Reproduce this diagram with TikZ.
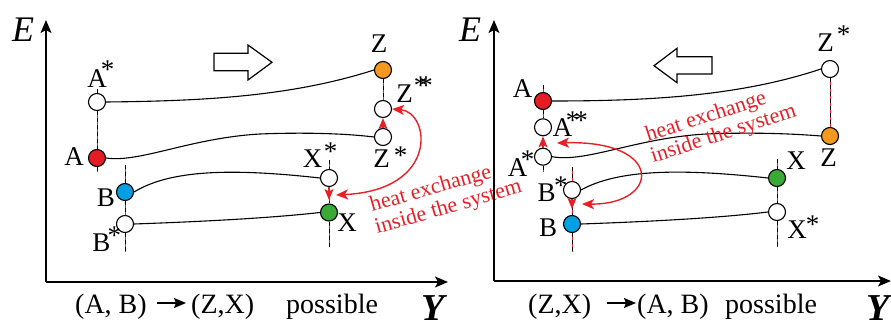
\documentclass[tikz,border=0pt]{standalone}
\usepackage{fontspec}
\setmainfont{Liberation Serif}
\usetikzlibrary{arrows.meta}
\definecolor{myred}{RGB}{232,32,38}
\definecolor{cred}{RGB}{228,28,36}
\definecolor{cblue}{RGB}{0,160,227}
\definecolor{cgreen}{RGB}{57,170,53}
\definecolor{corange}{RGB}{243,152,32}
\newcommand\upst[2]{\rlap{\kern#1\raisebox{#2}{*}}}
\newcommand\upstt[3]{\rlap{\kern#1\raisebox{#2}{*}\kern#3\raisebox{#2}{*}}}
\begin{document}
\begin{tikzpicture}[x=1pt,y=-1pt,
  state/.style={circle,draw=black,line width=1.1pt,minimum size=17pt,inner sep=0pt},
  lbl/.style={font=\fontsize{27}{30}\selectfont,inner sep=0pt,anchor=base},
  btxt/.style={font=\fontsize{28}{30}\selectfont,inner sep=0pt,anchor=base west},
  heat/.style={font=\fontsize{22}{24}\selectfont,text=myred,inner sep=0pt,anchor=base west},
  curve/.style={line width=1.1pt},
  axis/.style={line width=1.4pt,-{Stealth[length=13pt,width=11pt,inset=3pt]}},
  vline/.style={draw=myred,line width=1pt,postaction={draw=black,dash pattern=on 4pt off 3pt}},
  harrow/.style={draw=myred,fill=myred,line width=1.2pt,-{Stealth[length=11pt,width=9pt,inset=2.5pt]}},
  exch/.style={draw=myred,line width=1.4pt,{Stealth[length=12pt,width=10pt,inset=3pt]}-{Stealth[length=12pt,width=10pt,inset=3pt]}},
  txtarrow/.style={line width=1.5pt,-{Stealth[length=12pt,width=10pt,inset=2pt]}},
  hollow/.style={draw=black,line width=1.2pt,fill=white,line join=miter}
]
\useasboundingbox (0,0) rectangle (891,320);

% ---------------- left panel ----------------
\coordinate (lO) at (46,282);
\coordinate (lYend) at (448,282);
\coordinate (lEend) at (46,20);
\draw[axis] (lO) -- (lEend);
\draw[axis] (lO) -- (lYend);
\node[font=\fontsize{36}{40}\selectfont\itshape,inner sep=0pt,anchor=base west] (lE) at (12,42) {E};
\node[font=\fontsize{38}{40}\selectfont\bfseries\itshape,inner sep=0pt,anchor=base west] (lY) at (421,320) {Y};

\draw[hollow] (214,53.3) -- (248,53.3) -- (248,45) -- (272,62.3) -- (248,80) -- (248,70.7) -- (214,70.7) -- cycle;

\node[state,fill=white]   (lAs)  at (97,102) {};
\node[state,fill=cred]    (lA)   at (97,158) {};
\node[state,fill=cblue]   (lB)   at (125,192) {};
\node[state,fill=white]   (lBs)  at (125,224) {};
\node[state,fill=corange] (lZ)   at (383,70) {};
\node[state,fill=white]   (lZss) at (383,109) {};
\node[state,fill=white]   (lZs)  at (383,137) {};
\node[state,fill=white]   (lXs)  at (329,178) {};
\node[state,fill=cgreen]  (lX)   at (329,212.5) {};

\coordinate (lAtop) at (97,89);
\coordinate (lAbot) at (97,172);
\coordinate (lBtop) at (125,165);
\coordinate (lBbot) at (125,252);
\coordinate (lXtop) at (329,160);
\coordinate (lXbot) at (329,247);
\draw[vline] (lAtop) -- (lAs.north);
\draw[vline] (lAs.south) -- (lA.north);
\draw[vline] (lA.south) -- (lAbot);
\draw[vline] (lBtop) -- (lB.north);
\draw[vline] (lB.south) -- (lBs.north);
\draw[vline] (lBs.south) -- (lBbot);
\draw[vline] (lZ.south) -- (lZss.north);
\draw[vline] (lXtop) -- (lXs.north);
\draw[vline] (lXs.south) -- (lX.north);
\draw[vline] (lX.south) -- (lXbot);

\draw[curve] (lAs.east) .. controls (200,101) and (290,97) .. (lZ.west);
\draw[curve] (lA.east) .. controls (140,163) and (190,138) .. (260,134) .. controls (310,132) and (350,134) .. (lZs.west);
\draw[curve] (lB.east) .. controls (170,170) and (230,168) .. (lXs.west);
\draw[curve] (lBs.east) .. controls (220,221) and (280,217) .. (lX.west);

\coordinate (lXtip) at (329,200);
\coordinate (lXgap) at (336,195);
\draw[harrow] (lZs.north) -- (lZss.south);
\draw[harrow] (lXs.south) -- (lXtip);
\draw[exch] (lZss.east) .. controls (430,112) and (440,190) .. (lXgap);

\node[lbl] (lAsl)  at (97,88)    {A\upst{-6pt}{9pt}};
\node[lbl] (lAl)   at (74,166)   {A};
\node[lbl] (lBl)   at (106,207)  {B};
\node[lbl] (lBsl)  at (101.5,252){B\upst{-3pt}{7pt}};
\node[lbl] (lZl)   at (379,53)   {Z};
\node[lbl] (lZssl) at (404.5,103){Z\upstt{1pt}{8pt}{-8pt}};
\node[lbl] (lZsl)  at (381.5,168){Z\upst{4pt}{3.5pt}};
\node[lbl] (lXsl)  at (312.5,168){X\upst{1.5pt}{7.5pt}};
\node[lbl] (lXl)   at (347,232)  {X};

\node[heat,rotate=16] (lh1) at (372,212) {heat exchange};
\node[heat,rotate=16] (lh2) at (377,234) {inside the system};

\node[btxt] (lt1) at (75,313) {(A, B)};
\coordinate (la1) at (157,303);
\coordinate (la2) at (186,303);
\draw[txtarrow] (la1) -- (la2);
\node[btxt] (lt2) at (191,313) {(Z,X)};
\node[btxt] (lt3) at (286,313) {possible};

% ---------------- right panel ----------------
\coordinate (rO) at (494,281);
\coordinate (rYend) at (891,281);
\coordinate (rEend) at (494,20);
\draw[axis] (rO) -- (rEend);
\draw[axis] (rO) -- (rYend);
\node[font=\fontsize{36}{40}\selectfont\itshape,inner sep=0pt,anchor=base west] (rE) at (459,42) {E};
\node[font=\fontsize{38}{40}\selectfont\bfseries\itshape,inner sep=0pt,anchor=base west] (rY) at (866,320) {Y};

\draw[hollow] (712,56.7) -- (677,56.7) -- (677,48.3) -- (654,65.7) -- (677,82.7) -- (677,74) -- (712,74) -- cycle;

\node[state,fill=cred]    (rA)   at (543,101) {};
\node[state,fill=white]   (rAss) at (543,127.3) {};
\node[state,fill=white]   (rAs)  at (543,156.7) {};
\node[state,fill=white]   (rBs)  at (572,190) {};
\node[state,fill=cblue]   (rB)   at (572,224) {};
\node[state,fill=white]   (rZs)  at (830,69) {};
\node[state,fill=corange] (rZ)   at (830,136) {};
\node[state,fill=cgreen]  (rX)   at (777,178) {};
\node[state,fill=white]   (rXs)  at (777,212) {};

\coordinate (rAtop) at (543,85);
\coordinate (rAbot) at (543,172);
\coordinate (rBtop) at (572,167);
\coordinate (rBbot) at (572,252);
\coordinate (rXtop) at (777,159);
\coordinate (rXbot) at (777,247);
\draw[vline] (rAtop) -- (rA.north);
\draw[vline] (rA.south) -- (rAss.north);
\draw[vline] (rAs.south) -- (rAbot);
\draw[vline] (rBtop) -- (rBs.north);
\draw[vline] (rBs.south) -- (rB.north);
\draw[vline] (rB.south) -- (rBbot);
\draw[vline] (rZs.south) -- (rZ.north);
\draw[vline] (rXtop) -- (rX.north);
\draw[vline] (rX.south) -- (rXs.north);
\draw[vline] (rXs.south) -- (rXbot);

\draw[curve] (rA.east) .. controls (650,101) and (740,96) .. (rZs.west);
\draw[curve] (rAs.east) .. controls (586,163) and (636,138) .. (706,134) .. controls (756,132) and (796,134) .. (rZ.west);
\draw[curve] (rBs.east) .. controls (617,170) and (677,168) .. (rX.west);
\draw[curve] (rB.east) .. controls (667,221) and (727,217) .. (rXs.west);

\coordinate (rBtip) at (572,209);
\coordinate (rAgap) at (557,143);
\coordinate (rBgap) at (582,204);
\draw[harrow] (rAs.north) -- (rAss.south);
\draw[harrow] (rBs.south) -- (rBtip);
\draw[exch] (rAgap) .. controls (665,140) and (660,205) .. (rBgap);

\node[lbl] (rAl)   at (522.5,98)  {A};
\node[lbl] (rAssl) at (562.5,137) {A\upstt{-6.5pt}{7pt}{-5pt}};
\node[lbl] (rAsl)  at (517.5,177) {A\upst{-6.5pt}{8.5pt}};
\node[lbl] (rBsl)  at (546.5,202) {B\upst{-1.5pt}{7.5pt}};
\node[lbl] (rBl)   at (548,237)   {B};
\node[lbl] (rZsl)  at (825.5,52)  {Z\upst{3pt}{8.5pt}};
\node[lbl] (rZl)   at (828.5,167) {Z};
\node[lbl] (rXl)   at (796,170)   {X};
\node[lbl] (rXsl)  at (797,239)   {X\upst{-1pt}{5pt}};

\node[heat,rotate=18] (rh1) at (648,142) {heat exchange};
\node[heat,rotate=18] (rh2) at (653,163) {inside the system};

\node[btxt] (rt1) at (528,313) {(Z,X)};
\coordinate (ra1) at (607,303);
\coordinate (ra2) at (636,303);
\draw[txtarrow] (ra1) -- (ra2);
\node[btxt] (rt2) at (637,313) {(A, B)};
\node[btxt] (rt3) at (725,313) {possible};
\end{tikzpicture}
\end{document}
